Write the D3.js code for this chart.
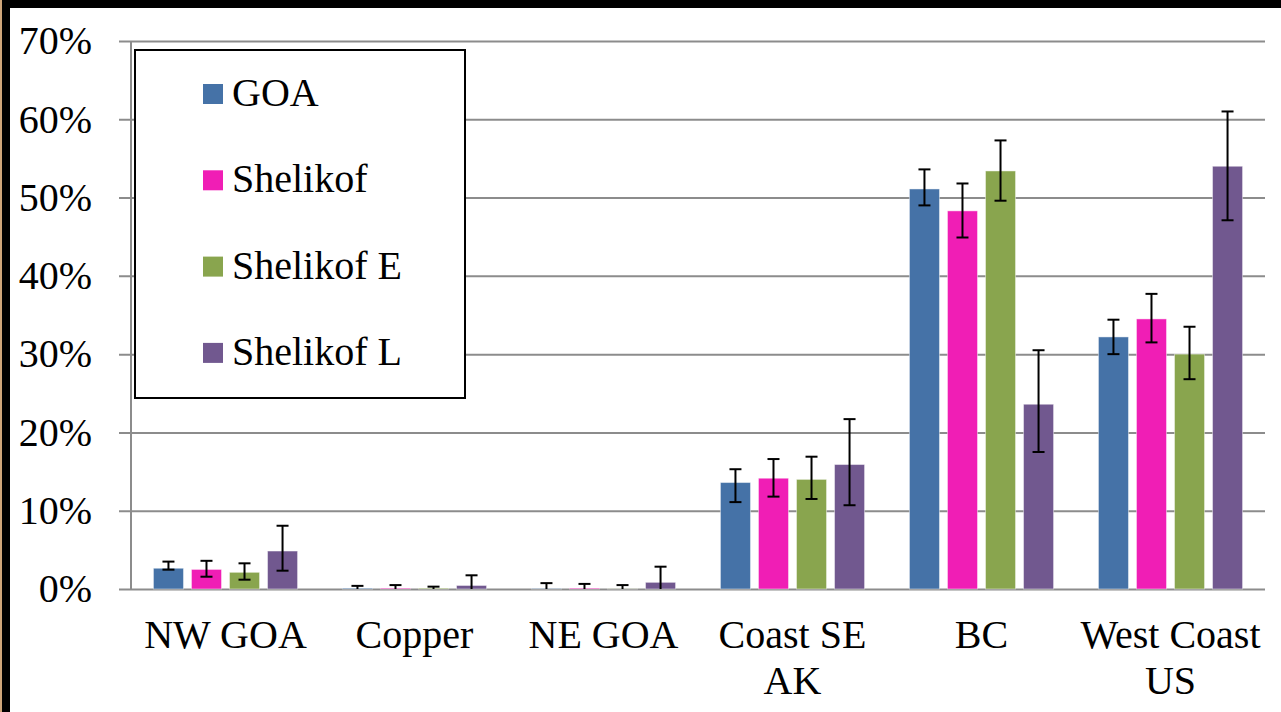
<!DOCTYPE html>
<html>
<head>
<meta charset="utf-8">
<script src="https://cdn.jsdelivr.net/npm/d3@7"></script>
<style>
  html, body { margin: 0; padding: 0; background: #cfa67a; overflow: hidden; }
  #chart { width: 1281px; height: 712px; }
  text { font-family: "Liberation Serif", "Times New Roman", serif; fill: #000; }
</style>
</head>
<body>
<div id="chart"></div>
<script>
// categories and tick labels
var categories = ["NW GOA", "Copper", "NE GOA", "Coast SE AK", "BC", "West Coast US"];
var categoryLines = [["NW GOA"], ["Copper"], ["NE GOA"], ["Coast SE", "AK"], ["BC"], ["West Coast", "US"]];
var seriesNames = ["GOA", "Shelikof", "Shelikof E", "Shelikof L"];
var yTicks = [0, 10, 20, 30, 40, 50, 60, 70];

// values in percent, with lower / upper ends of the error bars
var goa = [2.65, 0.1, 0.05, 13.6, 51.1, 32.2];
var goaLow = [2.47, 0, 0, 11.1, 49.0, 30.0];
var goaHigh = [3.5, 0.4, 0.75, 15.3, 53.6, 34.4];

var shelikof = [2.5, 0.1, 0.1, 14.15, 48.3, 34.5];
var shelikofLow = [1.57, 0, 0, 11.8, 44.9, 31.5];
var shelikofHigh = [3.6, 0.5, 0.65, 16.6, 51.8, 37.7];

var shelikofE = [2.13, 0.1, 0.02, 14.0, 53.4, 30.0];
var shelikofELow = [1.19, 0, 0, 11.5, 49.6, 26.8];
var shelikofEHigh = [3.28, 0.3, 0.5, 16.9, 57.3, 33.5];

var shelikofL = [4.85, 0.45, 0.85, 15.9, 23.6, 54.0];
var shelikofLLow = [2.34, 0, 0, 10.7, 17.5, 47.1];
var shelikofLHigh = [8.08, 1.75, 2.85, 21.7, 30.5, 61.0];

var colors = ["#4572A7", "#F01EB5", "#89A54E", "#71588F"];

var series = [
  {name: seriesNames[0], v: goa, lo: goaLow, hi: goaHigh},
  {name: seriesNames[1], v: shelikof, lo: shelikofLow, hi: shelikofHigh},
  {name: seriesNames[2], v: shelikofE, lo: shelikofELow, hi: shelikofEHigh},
  {name: seriesNames[3], v: shelikofL, lo: shelikofLLow, hi: shelikofLHigh}
];

var W = 1281, H = 712;
var plotLeft = 131, plotRight = 1265, plotTop = 41, plotBottom = 589;
var fontSize = 40;

var svg = d3.select("#chart").append("svg")
    .attr("width", W)
    .attr("height", H);

// frame: black border top and left, white inside
svg.append("rect").attr("x", 2).attr("y", 0).attr("width", W).attr("height", H).attr("fill", "#000");
svg.append("rect").attr("x", 10).attr("y", 8).attr("width", W).attr("height", H).attr("fill", "#fff");

var x0 = d3.scaleBand().domain(categories).range([plotLeft, plotRight]).padding(0);
var x1 = d3.scaleBand().domain(seriesNames).range([0, x0.bandwidth()])
    .paddingInner(0.21).paddingOuter(0.59);
var y = d3.scaleLinear().domain([0, 70]).range([plotBottom, plotTop]);

// gridlines
svg.append("g")
    .attr("transform", "translate(" + plotRight + ",0)")
    .call(d3.axisLeft(y).tickValues(yTicks).tickSize(plotRight - 119).tickFormat(""))
    .call(function(g) { g.select(".domain").remove(); })
    .selectAll("line")
    .attr("stroke", "#8c8c8c")
    .attr("stroke-width", 2);

// y labels
svg.append("g")
    .attr("transform", "translate(" + plotLeft + ",0)")
    .call(d3.axisLeft(y).tickValues(yTicks).tickSize(0).tickPadding(39)
      .tickFormat(function(d) { return d + "%"; }))
    .call(function(g) { g.select(".domain").remove(); })
    .selectAll("text")
    .attr("font-size", fontSize)
    .attr("fill", "#000");

// y axis line
svg.append("line")
    .attr("x1", plotLeft).attr("x2", plotLeft)
    .attr("y1", y(70)).attr("y2", y(0))
    .attr("stroke", "#8c8c8c").attr("stroke-width", 2);

// bars
var groups = svg.selectAll(".grp")
    .data(series)
  .enter().append("g")
    .attr("class", "grp");

groups.selectAll("rect")
    .data(function(s, si) { return categories.map(function(c, i) { return {c: c, s: s.name, v: s.v[i], si: si}; }); })
  .enter().append("rect")
    .attr("x", function(d) { return x0(d.c) + x1(d.s); })
    .attr("y", function(d) { return y(d.v); })
    .attr("width", x1.bandwidth())
    .attr("height", function(d) { return y(0) - y(d.v); })
    .attr("fill", function(d) { return colors[d.si]; })
    .attr("stroke", "rgba(255,255,255,0.45)")
    .attr("stroke-width", 1);

// error bars
var err = svg.selectAll(".err")
    .data(series)
  .enter().append("g")
    .attr("class", "err")
    .selectAll("g")
    .data(function(s) { return categories.map(function(c, i) { return {c: c, s: s.name, lo: s.lo[i], hi: s.hi[i]}; }); })
  .enter().append("g")
    .attr("transform", function(d) { return "translate(" + (x0(d.c) + x1(d.s) + x1.bandwidth() / 2) + ",0)"; });

err.append("line")
    .attr("x1", 0).attr("x2", 0)
    .attr("y1", function(d) { return y(d.lo); })
    .attr("y2", function(d) { return y(d.hi); })
    .attr("stroke", "#000").attr("stroke-width", 2);
err.append("line")
    .attr("x1", -6).attr("x2", 6)
    .attr("y1", function(d) { return y(d.hi); })
    .attr("y2", function(d) { return y(d.hi); })
    .attr("stroke", "#000").attr("stroke-width", 2);
err.filter(function(d) { return d.lo > 0; }).append("line")
    .attr("x1", -6).attr("x2", 6)
    .attr("y1", function(d) { return y(d.lo); })
    .attr("y2", function(d) { return y(d.lo); })
    .attr("stroke", "#000").attr("stroke-width", 2);

// category labels
var cat = svg.selectAll(".cat")
    .data(categories)
  .enter().append("text")
    .attr("class", "cat")
    .attr("text-anchor", "middle")
    .attr("font-size", fontSize)
    .attr("y", 648);

cat.selectAll("tspan")
    .data(function(d, i) { return categoryLines[i]; })
  .enter().append("tspan")
    .attr("x", function() { return x0(d3.select(this.parentNode).datum()) + x0.bandwidth() / 2; })
    .attr("dy", function(d, i) { return i === 0 ? 0 : 46; })
    .text(function(d) { return d; });

// legend
var legend = svg.append("g");
legend.append("rect")
    .attr("x", 135).attr("y", 50)
    .attr("width", 330).attr("height", 348)
    .attr("fill", "#fff")
    .attr("stroke", "#000")
    .attr("stroke-width", 2);

var item = legend.selectAll(".item")
    .data(seriesNames)
  .enter().append("g")
    .attr("class", "item")
    .attr("transform", function(d, i) { return "translate(0," + (i * 86.3) + ")"; });

item.append("rect")
    .attr("x", 203).attr("y", 84)
    .attr("width", 20).attr("height", 20)
    .attr("fill", function(d, i) { return colors[i]; });

item.append("text")
    .attr("x", 232).attr("y", 106)
    .attr("font-size", fontSize)
    .text(function(d) { return d; });
</script>
</body>
</html>
